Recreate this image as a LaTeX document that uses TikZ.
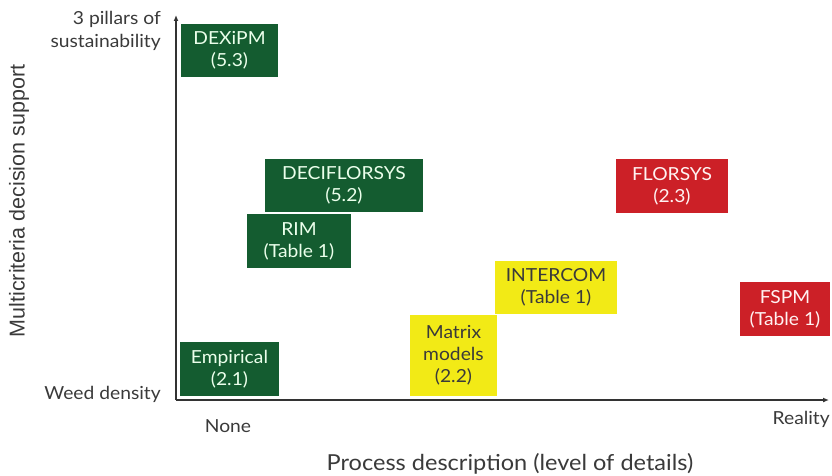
\documentclass[tikz,border=0pt]{standalone}
\usepackage{fontspec}
\setmainfont{Lato}[FakeStretch=1.07]
\newfontfamily\arialfont{Liberation Sans}
\usetikzlibrary{arrows.meta}
\definecolor{boxgreen}{HTML}{145C30}
\definecolor{boxred}{HTML}{CC2027}
\definecolor{boxyellow}{HTML}{F2EA16}
\definecolor{axisgray}{HTML}{333333}
\definecolor{textgray}{HTML}{3A3A3A}
\begin{document}
\begin{tikzpicture}[x=1pt,y=-1pt,
  model/.style={inner sep=0pt, align=center, font=\fontsize{18}{22}\selectfont},
  greenbox/.style={model, fill=boxgreen, text=white!92!green},
  redbox/.style={model, fill=boxred, text=white!95!red},
  yellowbox/.style={model, fill=boxyellow, text=textgray},
  axislabel/.style={text=textgray, font=\fontsize{18}{23}\selectfont, inner sep=0pt},
  axisline/.style={draw=axisgray, line width=1.3pt, -{Latex[length=6pt,width=5pt]}}]
\useasboundingbox (0,0) rectangle (832,476);

% axes
\coordinate (origin) at (176,400);
\coordinate (ytop) at (176,15);
\coordinate (xend) at (829,400);
\draw[axisline] (origin) -- (ytop);
\draw[axisline] (origin) -- (xend);

% model boxes
\node[greenbox, minimum width=97pt, minimum height=53pt] (dexipm) at (229.5,50.5) {DEXiPM\\(5.3)};
\node[greenbox, minimum width=158pt, minimum height=53pt] (deci) at (344,185.5) {DECIFLORSYS\\(5.2)};
\node[greenbox, minimum width=104pt, minimum height=54pt] (rim) at (299,241) {RIM\\(Table 1)};
\node[greenbox, minimum width=99pt, minimum height=54pt] (emp) at (229.5,369) {Empirical\\(2.1)};
\node[redbox, minimum width=112pt, minimum height=54pt] (florsys) at (672,186) {FLORSYS\\(2.3)};
\node[redbox, minimum width=90pt, minimum height=54pt] (fspm) at (785,309) {FSPM\\(Table 1)};
\node[yellowbox, minimum width=122pt, minimum height=53pt] (intercom) at (556,287.5) {INTERCOM\\(Table 1)};
\node[yellowbox, minimum width=87pt, minimum height=81pt] (matrix) at (453.5,355.5) {Matrix\\models\\(2.2)};

% axis labels
\node[axislabel, anchor=east, align=right] (ytoplab) at (161,31) {3 pillars of\\sustainability};
\node[axislabel, anchor=east] (ybotlab) at (161,394) {Weed density};
\node[axislabel] (none) at (228,426) {None};
\node[axislabel, anchor=east] (reality) at (830,419) {Reality};
\node[axislabel, font=\fontsize{22}{26}\selectfont] (xtitle) at (510,464) {Process description (level of details)};
\node[axislabel, font=\arialfont\fontsize{21.5}{25}\selectfont, rotate=90] (ytitle) at (19,201) {Multicriteria decision support};
\end{tikzpicture}
\end{document}
